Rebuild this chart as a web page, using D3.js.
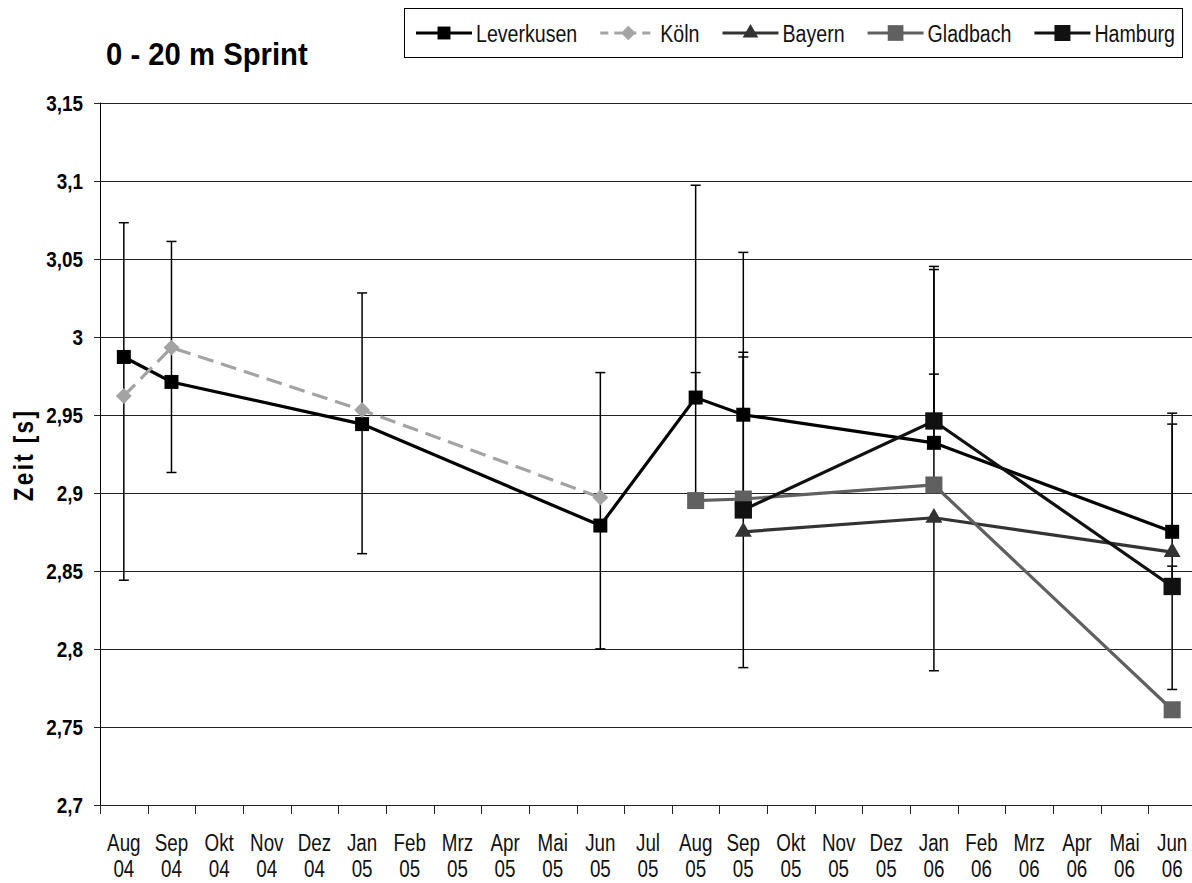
<!DOCTYPE html>
<html>
<head>
<meta charset="utf-8">
<script src="https://cdn.jsdelivr.net/npm/d3@7"></script>
<style>
  body { margin: 0; background: #fff; }
  svg { display: block; font-family: "Liberation Sans", Arial, sans-serif; }
</style>
</head>
<body>
<div id="chart"></div>
<script>
// Monate (Kategorien der x-Achse)
const months = ["Aug 04","Sep 04","Okt 04","Nov 04","Dez 04","Jan 05","Feb 05","Mrz 05","Apr 05","Mai 05","Jun 05",
                "Jul 05","Aug 05","Sep 05","Okt 05","Nov 05","Dez 05","Jan 06","Feb 06","Mrz 06","Apr 06","Mai 06","Jun 06"];
const yTicks = [2.7, 2.75, 2.8, 2.85, 2.9, 2.95, 3, 3.05, 3.1, 3.15];

// Messwerte je Verein [Monat, Zeit in s]
const leverkusen = [["Aug 04",2.987],["Sep 04",2.971],["Jan 05",2.944],["Jun 05",2.879],["Aug 05",2.961],["Sep 05",2.950],["Jan 06",2.932],["Jun 06",2.875]];
const koeln      = [["Aug 04",2.962],["Sep 04",2.993],["Jan 05",2.953],["Jun 05",2.897]];
const bayern     = [["Sep 05",2.875],["Jan 06",2.884],["Jun 06",2.862]];
const gladbach   = [["Aug 05",2.895],["Sep 05",2.896],["Jan 06",2.905],["Jun 06",2.761]];
const hamburg    = [["Sep 05",2.889],["Jan 06",2.946],["Jun 06",2.840]];

// Fehlerbalken [Monat, oben, unten]
const errorBars = [
  ["Aug 04",3.073,2.844],["Sep 04",3.061,2.913],["Jan 05",3.028,2.861],["Jun 05",2.977,2.800],
  ["Aug 05",3.097,2.895],["Aug 05",2.977,2.961],
  ["Sep 05",3.054,2.950],["Sep 05",2.990,2.788],["Sep 05",2.987,2.897],
  ["Jan 06",3.045,2.932],["Jan 06",3.043,2.905],["Jan 06",2.976,2.946],["Jan 06",2.884,2.786],
  ["Jun 06",2.951,2.875],["Jun 06",2.944,2.840],["Jun 06",2.853,2.774]
];

const series = [
  {name: "Leverkusen", data: leverkusen, color: "#000",    symbol: d3.symbolSquare,   size: 196, dash: null},
  {name: "Köln",       data: koeln,      color: "#a3a3a3", symbol: d3.symbolDiamond2, size: 160, dash: "16,8"},
  {name: "Bayern",     data: bayern,     color: "#333",    symbol: d3.symbolTriangle, size: 125, dash: null},
  {name: "Gladbach",   data: gladbach,   color: "#606060", symbol: d3.symbolSquare,   size: 290, dash: null},
  {name: "Hamburg",    data: hamburg,    color: "#111",    symbol: d3.symbolSquare,   size: 300, dash: null}
];

const width = 1192, height = 883;
const plotLeft = 100, plotRight = 1196, plotTop = 102.5, plotBottom = 805;
const narrow = 0.8; // schmale Schrift nachbilden

const svg = d3.select("#chart").append("svg")
    .attr("width", width)
    .attr("height", height);

const x = d3.scaleBand().domain(months).range([plotLeft, plotRight]).padding(0);
const y = d3.scaleLinear().domain([2.7, 3.15]).range([plotBottom, plotTop]);
const cx = m => x(m) + x.bandwidth() / 2;

// Gitternetzlinien
svg.append("g")
  .selectAll("line")
  .data(yTicks)
  .join("line")
    .attr("x1", plotLeft - 6)
    .attr("x2", plotRight)
    .attr("y1", d => Math.round(y(d)) + 0.5)
    .attr("y2", d => Math.round(y(d)) + 0.5)
    .attr("stroke", "#222")
    .attr("stroke-width", 1);

// y-Achse
svg.append("line")
  .attr("x1", plotLeft + 0.5).attr("x2", plotLeft + 0.5)
  .attr("y1", plotTop).attr("y2", plotBottom + 9)
  .attr("stroke", "#000");

svg.append("g")
  .selectAll("text")
  .data(yTicks)
  .join("text")
    .attr("transform", d => `translate(83,${y(d)}) scale(0.84,1)`)
    .attr("dy", "0.36em")
    .attr("text-anchor", "end")
    .attr("font-size", 22.5)
    .attr("font-weight", "bold")
    .text(d => d3.format(".2~f")(d).replace(".", ","));

// x-Achse Striche und Beschriftung
svg.append("g")
  .selectAll("line")
  .data(months)
  .join("line")
    .attr("x1", d => Math.round(x(d)) + 0.5)
    .attr("x2", d => Math.round(x(d)) + 0.5)
    .attr("y1", plotBottom)
    .attr("y2", plotBottom + 9)
    .attr("stroke", "#222");

const xl = svg.append("g")
  .selectAll("text")
  .data(months)
  .join("text")
    .attr("transform", d => `translate(${cx(d)},0) scale(${narrow},1)`)
    .attr("text-anchor", "middle")
    .attr("font-size", 23.5)
    .attr("fill", "#111");
xl.append("tspan").attr("x", 0).attr("y", 851).text(d => d.split(" ")[0]);
xl.append("tspan").attr("x", 0).attr("y", 877).text(d => d.split(" ")[1]);

// Achsentitel
svg.append("text")
  .attr("transform", `translate(33,455) rotate(-90) scale(${narrow},1)`)
  .attr("text-anchor", "middle")
  .attr("font-size", 28)
  .attr("font-weight", "bold")
  .attr("letter-spacing", 3)
  .text("Zeit [s]");

svg.append("text")
  .attr("transform", "translate(106,65) scale(0.96,1.04)")
  .attr("font-size", 30.5)
  .attr("font-weight", "bold")
  .text("0 - 20 m Sprint");

// Fehlerbalken
const eb = svg.append("g").attr("stroke", "#000").attr("stroke-width", 1.5);
errorBars.forEach(([m, hi, lo]) => {
  eb.append("line").attr("x1", cx(m)).attr("x2", cx(m)).attr("y1", y(hi)).attr("y2", y(lo));
  eb.append("line").attr("x1", cx(m) - 5).attr("x2", cx(m) + 5).attr("y1", y(hi)).attr("y2", y(hi));
  eb.append("line").attr("x1", cx(m) - 5).attr("x2", cx(m) + 5).attr("y1", y(lo)).attr("y2", y(lo));
});

// Linien und Marker
const line = d3.line().x(d => cx(d[0])).y(d => y(d[1]));
series.forEach(s => {
  svg.append("path")
    .datum(s.data)
    .attr("d", line)
    .attr("fill", "none")
    .attr("stroke", s.color)
    .attr("stroke-width", 3.2)
    .attr("stroke-dasharray", s.dash);
  svg.append("g")
    .selectAll("path")
    .data(s.data)
    .join("path")
      .attr("transform", d => `translate(${cx(d[0])},${y(d[1])})`)
      .attr("d", d3.symbol(s.symbol, s.size))
      .attr("fill", s.color);
});

// Legende
const lg = svg.append("g");
lg.append("rect")
  .attr("x", 404.5).attr("y", 8.5)
  .attr("width", 778).attr("height", 49)
  .attr("fill", "#fff")
  .attr("stroke", "#000");
let lx = 416;
series.forEach(s => {
  const item = lg.append("g");
  item.append("line")
    .attr("x1", lx).attr("x2", lx + 56)
    .attr("y1", 33).attr("y2", 33)
    .attr("stroke", s.color)
    .attr("stroke-width", 3)
    .attr("stroke-dasharray", s.dash ? "8,6" : null);
  item.append("path")
    .attr("transform", `translate(${lx + 28},33)`)
    .attr("d", d3.symbol(s.symbol, s.size * 0.85))
    .attr("fill", s.color);
  const t = item.append("text")
    .attr("transform", `translate(${lx + 60},33) scale(${narrow},1)`)
    .attr("dy", "0.36em")
    .attr("font-size", 24.5)
    .attr("fill", "#111")
    .text(s.name);
  lx += 60 + t.node().getComputedTextLength() * narrow + 23;
});
</script>
</body>
</html>
